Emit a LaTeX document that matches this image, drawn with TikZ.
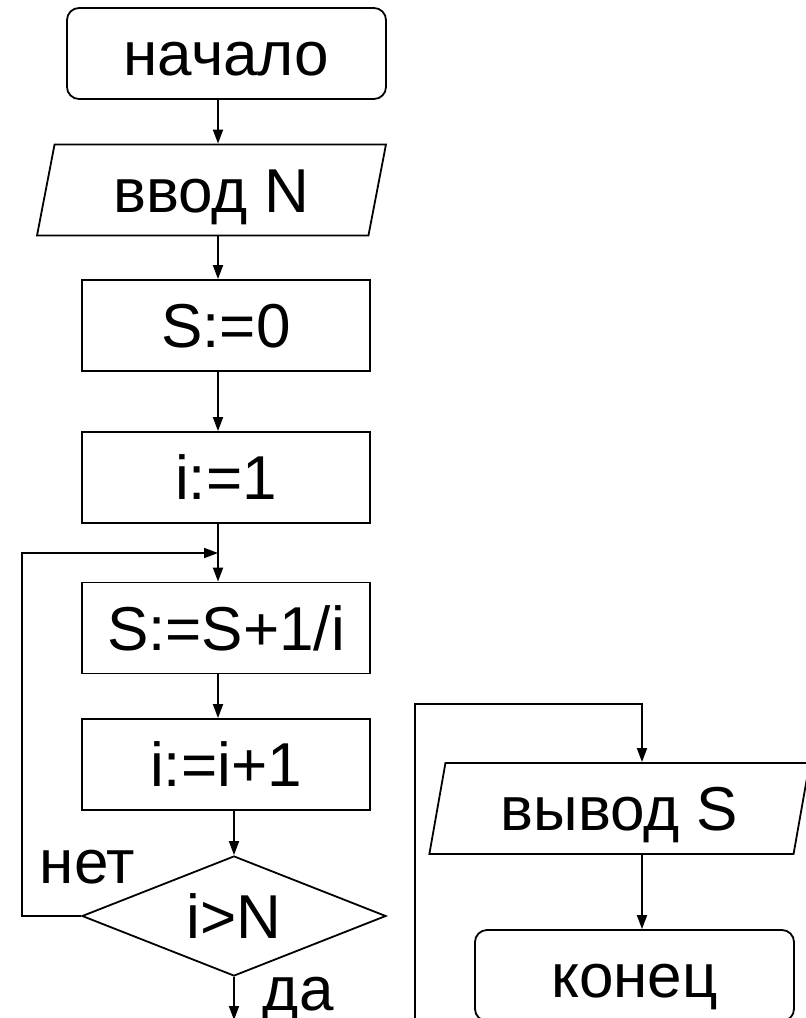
\documentclass[tikz,border=0pt]{standalone}
\usepackage{fontspec}
\setmainfont{Liberation Sans}
\usetikzlibrary{shapes.geometric,arrows.meta}
\begin{document}
\begin{tikzpicture}[x=1pt,y=-1pt,>={Triangle[length=14pt,width=10pt]},line width=1.8pt,line join=miter,font=\fontsize{62}{70}\selectfont]
	\tikzset{
		blk/.style={draw,inner sep=0pt,text height=44pt,text depth=0pt,minimum height=91pt},
		term/.style={blk,rounded corners=12pt,minimum width=319pt},
		act/.style={blk,minimum width=288pt},
		io/.style={blk,trapezium,trapezium left angle=76,trapezium right angle=104,trapezium stretches=true},
		cond/.style={draw,diamond,aspect=2.53,inner sep=0pt,text height=44pt,text depth=0pt,minimum width=304pt,minimum height=120pt},
		lbl/.style={inner sep=0pt,anchor=base west}
	}
	\useasboundingbox (0,0) rectangle (806,1018);
	\node[term] (start) at (226.5,53.5) {начало};
	\node[io,minimum width=349pt] (inN) at (211.5,190) {ввод N};
	\node[act] (s0) at (226,325.5) {S:=0};
	\node[act] (i1) at (226,477.5) {i:=1};
	\node[act] (sum) at (226,628) {S:=S+1/i};
	\node[act] (inc) at (226,764.5) {i:=i+1};
	\node[cond] (chk) at (234,916) {i>N};
	\node[io,minimum width=381pt] (outS) at (619.5,808.5) {вывод S};
	\node[term] (stop) at (634.5,975.5) {конец};
	\node[lbl] (no) at (39,883) {нет};
	\node[lbl] (yes) at (262,1010) {да};
	% guide points
	\coordinate (ax) at (218,0);
	\coordinate (ax3) at (642,0);
	\coordinate (back) at (22,553);
	\coordinate (join) at (218,553);
	\coordinate (yesend) at (234,1020);
	\coordinate (rbot) at (415,1030);
	\coordinate (rtop) at (415,704);
	% flow
	\draw[->] (start.south -| ax) -- (inN.north -| ax);
	\draw[->] (inN.south -| ax) -- (s0.north -| ax);
	\draw[->] (s0.south -| ax) -- (i1.north -| ax);
	\draw[->] (i1.south -| ax) -- (sum.north -| ax);
	\draw[->] (sum.south -| ax) -- (inc.north -| ax);
	\draw[->] (inc.south -| chk.north) -- (chk.north);
	\draw[->] (chk.west) -| (back) -- (join);
	\draw[->] (chk.south) -- (yesend);
	\draw[->] (rbot) -- (rtop) -| (outS.north -| ax3);
	\draw[->] (outS.south -| ax3) -- (stop.north -| ax3);
\end{tikzpicture}
\end{document}
